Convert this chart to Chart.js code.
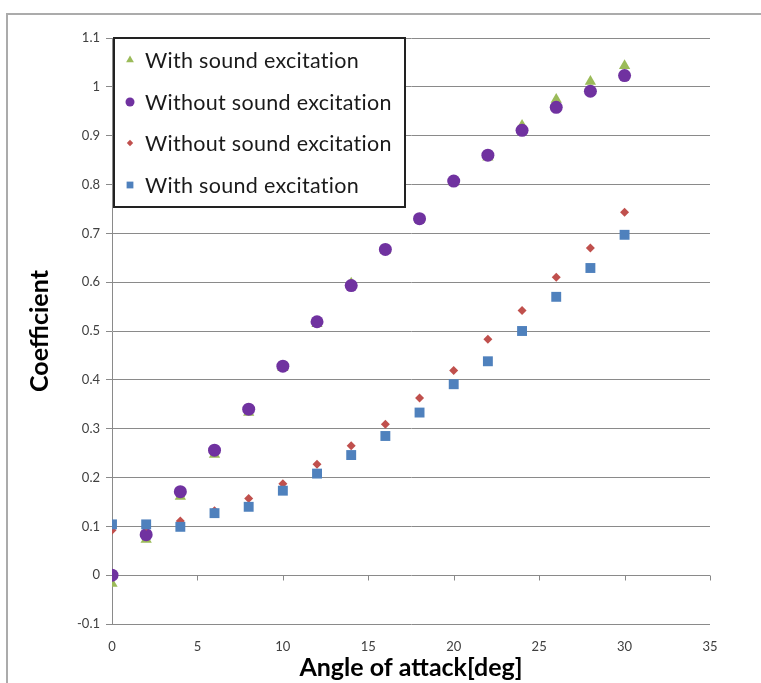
<!DOCTYPE html>
<html>
<head>
<meta charset="utf-8">
<script src="https://cdn.jsdelivr.net/npm/chart.js@4/dist/chart.umd.min.js"></script>
<style>
  html, body { margin: 0; padding: 0; background: #fff; }
  #wrap { position: relative; width: 761px; height: 683px; }
  canvas { display: block; }
</style>
</head>
<body>
<div id="wrap"><canvas id="c" width="761" height="683"></canvas></div>
<script>
// ---- data ----
const angles = [0, 2, 4, 6, 8, 10, 12, 14, 16, 18, 20, 22, 24, 26, 28, 30];
const withSoundUpper    = [-0.017, 0.073, 0.161, 0.247, 0.333, 0.425, 0.515, 0.598, 0.665, 0.728, 0.805, 0.856, 0.921, 0.974, 1.011, 1.043];
const withoutSoundUpper = [0.000, 0.083, 0.171, 0.256, 0.340, 0.428, 0.519, 0.593, 0.667, 0.730, 0.807, 0.860, 0.911, 0.958, 0.991, 1.023];
const withoutSoundLower = [0.092, 0.100, 0.111, 0.132, 0.157, 0.187, 0.227, 0.265, 0.309, 0.363, 0.419, 0.483, 0.542, 0.610, 0.670, 0.743];
const withSoundLower    = [0.104, 0.104, 0.099, 0.127, 0.140, 0.173, 0.208, 0.246, 0.285, 0.333, 0.391, 0.438, 0.500, 0.570, 0.629, 0.697];
const seriesNames = ['With sound excitation', 'Without sound excitation', 'Without sound excitation', 'With sound excitation'];
const xTitle = 'Angle of attack[deg]';
const yTitle = 'Coefficient';

const toXY = arr => arr.map((v, i) => ({ x: angles[i], y: v }));

const datasets = [
  { label: seriesNames[0], data: toXY(withSoundUpper), pointStyle: 'triangle', pointRadius: 6.5,
    backgroundColor: '#9BBB59', borderColor: '#9BBB59', borderWidth: 0, order: 3 },
  { label: seriesNames[1], data: toXY(withoutSoundUpper), pointStyle: 'circle', pointRadius: 6.5,
    backgroundColor: '#7032A0', borderColor: '#7032A0', borderWidth: 0, order: 2 },
  { label: seriesNames[2], data: toXY(withoutSoundLower), pointStyle: 'rectRot', pointRadius: 4.5,
    backgroundColor: '#C0504D', borderColor: '#C0504D', borderWidth: 0, order: 1 },
  { label: seriesNames[3], data: toXY(withSoundLower), pointStyle: 'rect', pointRadius: 7,
    backgroundColor: '#4F81BD', borderColor: '#4F81BD', borderWidth: 0, order: 0 }
];

const frame = {
  id: 'frame',
  beforeDraw(chart) {
    const ctx = chart.ctx;
    ctx.save();
    ctx.strokeStyle = '#ababab';
    ctx.lineWidth = 2;
    ctx.strokeRect(7, 14, 900, 900);
    ctx.restore();
  },
  afterDatasetsDraw(chart) {
    const ctx = chart.ctx, xs = chart.scales.x, ys = chart.scales.y;
    const y0 = Math.round(ys.getPixelForValue(0)) + 0.5;
    ctx.save();
    ctx.strokeStyle = '#888';
    ctx.lineWidth = 1;
    xs.ticks.forEach(t => {
      if (t.value === 0) return;
      const px = Math.round(xs.getPixelForValue(t.value)) + 0.5;
      ctx.beginPath(); ctx.moveTo(px, y0); ctx.lineTo(px, y0 + 5); ctx.stroke();
    });
    ctx.restore();
  },
  afterDraw(chart) {
    const ctx = chart.ctx;
    const bx = 114, by = 38, bw = 291, bh = 169;
    ctx.save();
    ctx.fillStyle = '#fff';
    ctx.fillRect(bx, by, bw, bh);
    ctx.strokeStyle = '#222';
    ctx.lineWidth = 2;
    ctx.strokeRect(bx, by, bw, bh);
    const rows = [60, 102, 143, 185];
    const legRadius = [4.5, 4.5, 3.2, 4.8];
    chart.data.datasets.forEach((ds, i) => {
      ctx.fillStyle = ds.backgroundColor;
      ctx.strokeStyle = ds.borderColor;
      Chart.helpers.drawPoint(ctx, { pointStyle: ds.pointStyle, radius: legRadius[i], rotation: 0, borderWidth: 0 }, 130, rows[i]);
      ctx.fillStyle = '#1a1a1a';
      ctx.font = '21.5px Lato, "Open Sans", sans-serif';
      ctx.letterSpacing = '0.3px';
      ctx.textBaseline = 'middle';
      ctx.textAlign = 'left';
      ctx.fillText(ds.label, 145, rows[i] + 1);
    });
    ctx.restore();
  }
};

new Chart(document.getElementById('c'), {
  type: 'scatter',
  data: { datasets },
  plugins: [frame],
  options: {
    responsive: false,
    animation: false,
    layout: { padding: { left: 0, right: 51, top: 38, bottom: 0 } },
    plugins: { legend: { display: false }, tooltip: { enabled: false } },
    scales: {
      x: {
        type: 'linear', min: 0, max: 35,
        afterFit(s) { s.height = 59; },
        ticks: { stepSize: 5, padding: 15, color: '#404040', font: { family: 'Lato, sans-serif', size: 13 } },
        grid: { drawOnChartArea: false, drawTicks: false },
        border: { display: false },
        title: { display: true, text: xTitle, color: '#000',
                 font: { family: 'Lato, sans-serif', size: 25, weight: 'bold' }, padding: { top: 0, bottom: 0 } }
      },
      y: {
        type: 'linear', min: -0.1, max: 1.1,
        afterFit(s) { s.width = 112; },
        ticks: { stepSize: 0.1, padding: 6, color: '#404040', font: { family: 'Lato, sans-serif', size: 13 },
                 callback: v => String(parseFloat(v.toFixed(1))) },
        grid: { color: '#8a8a8a', lineWidth: 1, tickLength: 6 },
        border: { display: true, color: '#8a8a8a', width: 1 },
        title: { display: true, text: yTitle, color: '#000',
                 font: { family: 'Lato, sans-serif', size: 25, weight: 'bold' }, padding: { top: 25, bottom: 0 } }
      }
    }
  }
});
</script>
</body>
</html>
